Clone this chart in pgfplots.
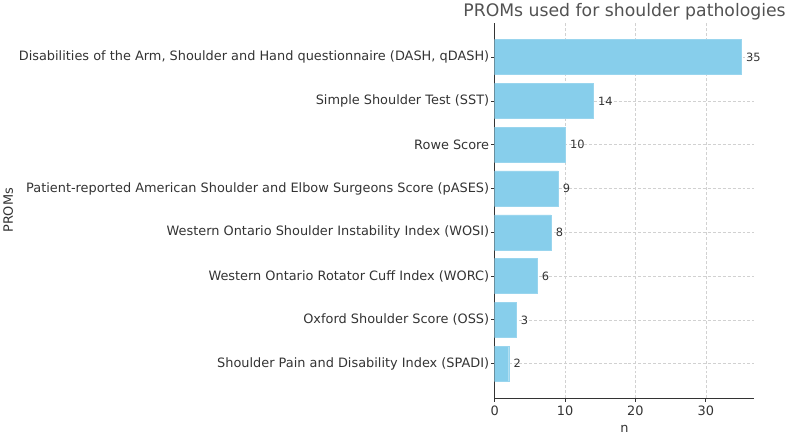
\documentclass[border=0pt]{standalone}
\usepackage{pgfplots}
\pgfplotsset{compat=1.18}
\usepackage{fontspec}
\setmainfont{DejaVu Sans}
\definecolor{barc}{HTML}{87CEEB}
\definecolor{txt}{HTML}{333333}
\begin{document}
\begin{tikzpicture}
\begin{axis}[
  xbar, bar width=0.8,
  scale only axis, width=262pt, height=379pt,
  xmin=0, xmax=36.9, ymin=-0.79, ymax=7.79,
  ytick={0,...,7},
  yticklabels={Shoulder Pain and Disability Index (SPADI),
    Oxford Shoulder Score (OSS),
    Western Ontario Rotator Cuff Index (WORC),
    Western Ontario Shoulder Instability Index (WOSI),
    Patient-reported American Shoulder and Elbow Surgeons Score (pASES),
    Rowe Score,
    Simple Shoulder Test (SST),
    {Disabilities of the Arm, Shoulder and Hand questionnaire (DASH, qDASH)}},
  xtick={0,10,20,30},
  axis x line*=bottom, axis y line*=left,
  axis line style={-, draw=txt, line width=0.9pt},
  grid=major, grid style={densely dashed, black!18, line width=0.5pt},
  tick align=outside, major tick length=3.5pt,
  tick style={draw=txt, line width=0.8pt},
  ticklabel style={font=\fontsize{13}{15}\selectfont, text=txt},
  yticklabel style={xshift=1.5pt},
  xticklabel style={yshift=-1pt},
  /pgf/number format/assume math mode=true,
  title={PROMs used for shoulder pathologies},
  title style={font=\fontsize{17.4}{20}\selectfont, text=txt!85, yshift=-7pt},
  xlabel={n}, ylabel={PROMs},
  xlabel style={font=\fontsize{13}{15}\selectfont, text=txt, yshift=-2pt},
  ylabel style={font=\fontsize{13}{15}\selectfont, text=txt, yshift=-1pt},
  nodes near coords,
  nodes near coords style={font=\fontsize{11.5}{13}\selectfont, text=txt, anchor=west, xshift=1.5pt},
]
\addplot[fill=barc, draw=barc!85!white, line width=0.4pt]
  coordinates {(2,0) (3,1) (6,2) (8,3) (9,4) (10,5) (14,6) (35,7)};
\end{axis}
\path (current axis.south west) ++(-496pt,-33pt);
\path (current axis.north east) ++(31pt,22pt);
\end{tikzpicture}
\end{document}
